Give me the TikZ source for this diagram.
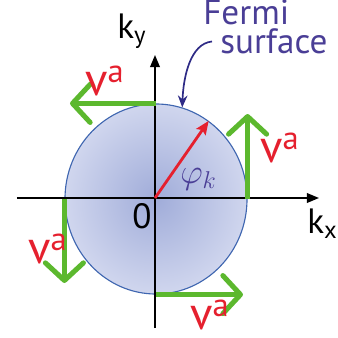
\documentclass[tikz,border=0pt]{standalone}
\usepackage{xcolor}
\usepackage{fontspec}
\setmainfont{PT Sans}
\usepackage{tikz}
\usetikzlibrary{arrows.meta,positioning,shapes.geometric}

\definecolor{fsedge}{HTML}{3F66B0}
\definecolor{fsin}{HTML}{A0ACD9}
\definecolor{fsout}{HTML}{D0D6EE}
\definecolor{vgreen}{HTML}{5CB82E}
\definecolor{vred}{HTML}{E5202E}
\definecolor{fspurple}{HTML}{4A3E96}
\definecolor{fsnavy}{HTML}{2E2B86}

\begin{document}
\begin{tikzpicture}[x=0.025cm, y=-0.025cm,
    fermi/.style={ellipse, draw=fsedge, line width=0.8pt, inner sep=0pt,
      minimum width=4.55cm, minimum height=4.75cm,
      shading=radial, inner color=fsin, outer color=fsout},
    ax/.style={line width=1.1pt, -{Triangle[length=3mm, width=2.4mm]}},
    vel/.style={vgreen, line width=3.6pt,
      -{Straight Barb[length=4.4mm, width=9.5mm, round]}},
    kvec/.style={vred, line width=2pt,
      -{Stealth[length=3.4mm, width=2.8mm, inset=0.6mm]}},
    ptr/.style={fsnavy, line width=1.2pt, -{Stealth[length=3mm, width=2.4mm]}},
    lbl/.style={inner sep=0pt, anchor=base west,
      font=\fontsize{25}{28}\selectfont},
    vlab/.style={lbl, vred, font=\fontsize{33}{36}\selectfont}
  ]
  \useasboundingbox (0,0) rectangle (338,338);

  \node[fermi] (fs) at (156,199) {};
  \coordinate (O) at (155,198);

  \coordinate (xl) at (17,198);
  \coordinate (xr) at (319,198);
  \coordinate (yb) at (155,328);
  \coordinate (yt) at (155,55);
  \draw[ax] (xl) -- (xr);
  \draw[ax] (yb) -- (yt);

  \draw[kvec] (O) -- (fs.56);

  \coordinate (t1) at (70,104);
  \coordinate (t2) at (248,114);
  \coordinate (t3) at (67,283);
  \coordinate (t4) at (243,294);
  \draw[vel] (fs.north) -- (fs.north -| t1);
  \draw[vel] (fs.east) -- (fs.east |- t2);
  \draw[vel] (fs.west) -- (fs.west |- t3);
  \draw[vel] (fs.south) -- (fs.south -| t4);

  \node[lbl] (ky) at (117,38) {k\textsubscript{y}};
  \node[lbl] (kx) at (307,233) {k\textsubscript{x}};
  \node[lbl] (zero) at (132,228) {0};
  \node[lbl, fspurple] (phi) at (180,183) {$\varphi_k$};

  \node[vlab] (v1) at (85,95) {v\textsuperscript{a}};
  \node[vlab] (v2) at (260,162) {v\textsuperscript{a}};
  \node[vlab] (v3) at (28,263) {v\textsuperscript{a}};
  \node[vlab] (v4) at (190,329) {v\textsuperscript{a}};

  \node[lbl, fspurple] (fermi) at (203,24) {Fermi};
  \node[lbl, fspurple] (surf) at (220,53) {surface};
  \draw[ptr, shorten <=2mm] (surf.west) to[out=185, in=88] (fs.74);
\end{tikzpicture}
\end{document}
